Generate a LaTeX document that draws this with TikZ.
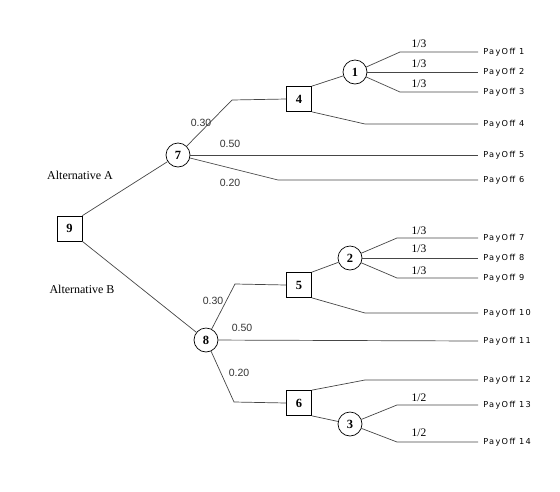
\documentclass[tikz,border=0pt]{standalone}
\usepackage{fontspec}
\setmainfont{Liberation Serif}
\newfontfamily\payfont[LetterSpace=16]{DejaVu Sans}
\newfontfamily\probfont{Liberation Sans}
\usetikzlibrary{positioning}
\definecolor{treegray}{RGB}{70, 70, 70}

\begin{document}
\begin{tikzpicture}[x=1pt, y=-1pt, line width=0.7pt,
    decision/.style={draw=black, fill=white, minimum size=25pt, inner sep=0pt, font=\fontsize{12.5}{12}\selectfont\bfseries},
    chance/.style={circle, draw=black, fill=white, minimum size=24pt, inner sep=0pt, font=\fontsize{12.5}{12}\selectfont\bfseries},
    payoff/.style={anchor=west, inner xsep=5pt, inner ysep=1pt, font=\payfont\fontsize{8.2}{9}\selectfont},
    prob/.style={font=\probfont\fontsize{10.5}{10}\selectfont, text=black!80, inner sep=1pt},
    frac/.style={font=\fontsize{11.5}{11}\selectfont, inner sep=1pt},
    branch/.style={draw=treegray}]
            \useasboundingbox (0,0) rectangle (560,491);

            % decision and chance nodes
            \node[decision] (n9) at (69.5,228.5) {9};
            \node[chance] (n7) at (178,155) {7};
            \node[chance] (n8) at (206,340) {8};
            \node[decision] (n4) at (299,99) {4};
            \node[decision] (n5) at (299,285) {5};
            \node[decision] (n6) at (299,403) {6};
            \node[chance] (n1) at (355,72) {1};
            \node[chance] (n2) at (350,258) {2};
            \node[chance] (n3) at (350,424) {3};

            % pay offs
            \node[payoff] (pay1) at (478,52) {PayOff 1};
            \node[payoff] (pay2) at (478,72) {PayOff 2};
            \node[payoff] (pay3) at (478,92) {PayOff 3};
            \node[payoff] (pay4) at (478,124) {PayOff 4};
            \node[payoff] (pay5) at (478,155) {PayOff 5};
            \node[payoff] (pay6) at (478,180) {PayOff 6};
            \node[payoff] (pay7) at (478,238) {PayOff 7};
            \node[payoff] (pay8) at (478,258) {PayOff 8};
            \node[payoff] (pay9) at (478,278) {PayOff 9};
            \node[payoff] (pay10) at (478,313) {PayOff 10};
            \node[payoff] (pay11) at (478,341) {PayOff 11};
            \node[payoff] (pay12) at (478,380) {PayOff 12};
            \node[payoff] (pay13) at (478,405) {PayOff 13};
            \node[payoff] (pay14) at (478,442) {PayOff 14};

            % alternatives
            \draw[branch] (n9.north east) -- (n7);
            \draw[branch] (n9.south east) -- (n8);
            \node[font=\fontsize{12}{12}\selectfont] (altA) at (80,175) {Alternative A};
            \node[font=\fontsize{12}{12}\selectfont] (altB) at (82,289) {Alternative B};

            % branches of 7
            \draw[branch] (n7) -- (232,100) -- (n4.west);
            \draw[branch] (n7) -- (pay5.west);
            \draw[branch] (n7) -- (278,180) -- (pay6.west);
            \node[prob] (p7a) at (201,123) {0.30};
            \node[prob] (p7b) at (230,144) {0.50};
            \node[prob] (p7c) at (230,183) {0.20};

            % branches of 4 and 1
            \draw[branch] (n4.north east) -- (n1);
            \draw[branch] (n4.south east) -- (365,124) -- (pay4.west);
            \draw[branch] (n1) -- (400,52) -- (pay1.west);
            \draw[branch] (n1) -- (pay2.west);
            \draw[branch] (n1) -- (400,92) -- (pay3.west);
            \node[frac] (f1a) at (419,44) {1/3};
            \node[frac] (f1b) at (419,64) {1/3};
            \node[frac] (f1c) at (419,84) {1/3};

            % branches of 8
            \draw[branch] (n8) -- (235,284) -- (n5.west);
            \draw[branch] (n8) -- (pay11.west);
            \draw[branch] (n8) -- (234,402) -- (n6.west);
            \node[prob] (p8a) at (213,301) {0.30};
            \node[prob] (p8b) at (242,328) {0.50};
            \node[prob] (p8c) at (239,373) {0.20};

            % branches of 5 and 2
            \draw[branch] (n5.north east) -- (n2);
            \draw[branch] (n5.south east) -- (365,313) -- (pay10.west);
            \draw[branch] (n2) -- (397,238) -- (pay7.west);
            \draw[branch] (n2) -- (pay8.west);
            \draw[branch] (n2) -- (397,278) -- (pay9.west);
            \node[frac] (f2a) at (419,231) {1/3};
            \node[frac] (f2b) at (419,249) {1/3};
            \node[frac] (f2c) at (419,271) {1/3};

            % branches of 6 and 3
            \draw[branch] (n6.north east) -- (365,380) -- (pay12.west);
            \draw[branch] (n6.south east) -- (n3);
            \draw[branch] (n3) -- (397,405) -- (pay13.west);
            \draw[branch] (n3) -- (397,442) -- (pay14.west);
            \node[frac] (f3a) at (419,398) {1/2};
            \node[frac] (f3b) at (419,433) {1/2};
        \end{tikzpicture}
\end{document}
